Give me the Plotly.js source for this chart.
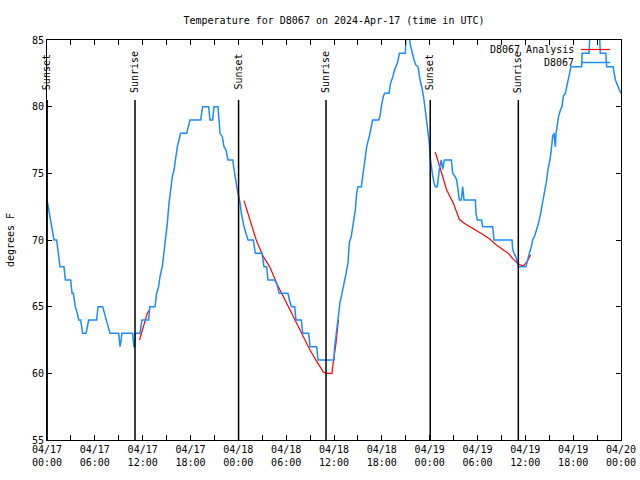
<!DOCTYPE html>
<html><head><meta charset="utf-8">
<script src="https://cdn.plot.ly/plotly-3.0.1.min.js"></script>
<style>html,body{margin:0;padding:0;background:#fff}#chart{width:640px;height:480px}</style>
</head><body><div id="chart"></div>
<script>
// Observed temperature (hours since 2024-04-17 00:00 UTC, degrees F)
const obsHours = [0,0.21,0.46,0.63,0.79,0.88,1.21,1.38,1.63,2.13,2.3,2.97,3.14,3.3,3.55,3.8,3.97,4.22,4.47,4.9,5.05,5.23,6.23,6.4,6.98,7.2,7.4,7.6,7.9,9.0,9.1,9.16,9.3,9.4,10.74,10.8,10.9,11.0,11.06,11.67,11.9,12.75,12.9,13.55,13.75,14.0,14.17,14.46,14.67,14.88,15.09,15.3,15.51,15.72,15.93,16.14,16.35,16.56,16.76,17.52,17.68,17.93,19.27,19.52,20.28,20.44,20.78,20.94,21.45,21.7,21.99,22.2,22.45,22.7,23.29,23.45,23.66,23.88,24.04,24.21,24.38,24.54,24.71,24.96,25.21,25.88,26.13,26.97,27.05,27.22,27.55,27.72,28.56,28.81,29.14,30.23,30.4,30.65,31.07,31.23,31.9,32.07,32.82,32.99,33.83,33.99,36.0,36.08,36.25,36.5,36.75,37.0,37.26,37.51,37.76,37.92,38.17,38.43,38.68,38.84,39.01,39.43,39.6,39.85,40.1,40.43,40.64,40.85,41.6,41.77,41.94,42.19,42.36,42.9,43.11,43.36,43.61,43.95,44.2,44.95,45.05,45.45,45.53,45.78,46.04,46.29,46.54,46.79,47.04,47.29,47.54,47.79,47.96,48.04,48.21,48.38,48.54,48.71,48.96,49.05,49.21,49.38,49.46,49.63,49.84,50.72,50.89,51.14,51.39,51.55,51.72,51.97,52.14,52.31,53.73,53.81,53.98,54.5,54.65,55.9,56.07,58.33,58.41,58.58,58.83,59.0,59.16,60.08,60.25,60.5,60.75,60.92,61.17,61.42,61.67,61.92,62.17,62.43,62.68,62.84,63.09,63.26,63.43,63.6,63.76,63.85,64.01,64.18,64.43,64.6,64.77,65.02,65.19,65.35,65.52,65.73,67.07,67.12,68.0,68.1,69.3,69.4,70.1,70.2,71.0,71.3,71.7,72.0];
const obsTemp = [73,72.25,71.25,70.75,70.25,70,70,69,68,68,67,67,66,66,65,64.5,64,64,63,63,63.5,64,64,65,65,64.5,64,63.5,63,63,62.5,62,62.5,63,63,62.5,62,62,63,63,64,64,65,65,66,66.5,67.25,68,69,70,71.25,72.75,73.75,74.75,75.25,76.25,77,77.5,78,78,78.5,79,79,80,80,79,79,80,80,78,77.75,77,76.75,76,76,75.25,74.5,73.75,73.3,72.8,72,71.5,71,70.5,70,70,69,69,68.5,68,68,67,67,66.75,66,66,65.5,65,65,64,64,63,63,62,62,61,61,62,62.8,64,65.3,66,66.7,67.5,68.3,69.8,70.3,71.3,72.3,73.5,74,74,74.8,75.8,77,77.8,78.3,79,79,79.3,80,80.8,81,81,81.8,82.2,82.8,83.25,84,84,85.5,85.5,84.75,84,83.5,83.1,83,82,81.4,80.5,79.25,78.25,77.25,76.3,75.3,74.8,74.3,74,74,74.5,75.3,75.8,76,75.3,76,76,75,74.8,74.5,73.8,73,73,74,73,73,72,71.5,71.5,71,71,70,70,69.3,69,68.7,68.3,68,68,68.5,69,69.5,70,70.3,70.8,71.3,72,72.8,73.8,74.5,75.3,76,76.8,77.8,78,77,78,78.8,79.3,79.8,80,80.8,81,81.5,82,82.5,83,83,84,84,85.5,85.5,84,84,83,83,82,81.4,81];

// Analysis (three separate runs, separated by null)
const anaHours = [11.6,12.0,12.33,12.58,12.83,null,24.71,25.46,26.3,27.14,27.97,28.81,29.65,30.48,31.32,32.15,32.99,33.83,34.66,35.08,35.75,35.92,36.25,36.55,null,48.71,49.3,50.13,50.97,51.72,52.23,53.06,53.9,54.73,55.57,56.41,57.24,57.87,58.5,59.12,59.75,60.25,60.67];
const anaTemp  = [62.5,63.25,64.0,64.5,64.75,null,72.95,71.5,69.9,68.75,67.95,66.75,65.75,64.75,63.75,62.75,61.75,60.9,60.1,60.0,60.0,60.9,62.25,64.0,null,76.58,75.4,73.75,72.75,71.55,71.3,71.0,70.75,70.4,70.05,69.6,69.25,69.0,68.55,68.2,68.05,68.4,68.9];

// Sun events
const eventHours  = [0.02, 11.04, 24.03, 35.0, 48.07, 59.12];
const eventLabels = ["Sunset","Sunrise","Sunset","Sunrise","Sunset","Sunrise"];

// Tick labels
const tickHours = [0,3,6,9,12,15,18,21,24,27,30,33,36,39,42,45,48,51,54,57,60,63,66,69,72];
const tickDates = ["04/17","04/17","04/17","04/17","04/18","04/18","04/18","04/18","04/19","04/19","04/19","04/19","04/20"];
const tickTimes = ["00:00","06:00","12:00","18:00","00:00","06:00","12:00","18:00","00:00","06:00","12:00","18:00","00:00"];

const seriesNames = ["D8067 Analysis", "D8067"];
const seriesColors = ["#ff0000", "#1a8cff"];

const FONT = "DejaVu Sans Mono, Liberation Mono, monospace";
const tickText = tickHours.map(h => (h % 6 === 0) ? (tickDates[h/6] + "<br>" + tickTimes[h/6]) : "");

const L = 47, R = 621, T = 40, B = 440;
const px2x = p => (p - L) / (R - L);
const px2y = p => (B - p) / (B - T);

const traces = [
  {x: anaHours, y: anaTemp, type: "scatter", mode: "lines", name: seriesNames[0],
   line: {color: seriesColors[0], width: 1.2}, connectgaps: false, showlegend: false},
  {x: obsHours, y: obsTemp, type: "scatter", mode: "lines", name: seriesNames[1],
   line: {color: seriesColors[1], width: 1.5}, showlegend: false}
];

const shapes = eventHours.map(h => ({type: "line", xref: "x", yref: "paper", x0: h, x1: h,
  y0: 0, y1: px2y(100), line: {color: "black", width: 1.5}}));
const annotations = eventHours.map((h, i) => ({xref: "x", yref: "paper", x: h, y: px2y(72),
  text: eventLabels[i], textangle: -90, showarrow: false, xanchor: "center", yanchor: "middle",
  font: {family: FONT, size: 10, color: "black"}}));

// legend (text left, sample right as in reference)
seriesNames.forEach((n, i) => {
  const yy = i === 0 ? 49.5 : 62.5;
  annotations.push({xref: "paper", yref: "paper", x: px2x(576), y: px2y(yy), text: n,
    showarrow: false, xanchor: "right", yanchor: "middle", font: {family: FONT, size: 10, color: "black"}});
  shapes.push({type: "line", xref: "paper", yref: "paper", x0: px2x(581), x1: px2x(610),
    y0: px2y(yy), y1: px2y(yy), line: {color: seriesColors[i], width: i === 0 ? 1.2 : 1.5}});
});

const layout = {
  width: 640, height: 480,
  margin: {l: L, r: 640 - R, t: T, b: 480 - B},
  paper_bgcolor: "white", plot_bgcolor: "white",
  font: {family: FONT, size: 10, color: "black"},
  title: {text: "Temperature for D8067 on 2024-Apr-17 (time in UTC)", x: px2x(334), xref: "paper",
          y: 1 - 20/480, yanchor: "middle", font: {family: FONT, size: 10, color: "black"}},
  xaxis: {range: [0, 72], tickmode: "array", tickvals: tickHours, ticktext: tickText,
          ticks: "inside", ticklen: 5, tickcolor: "black", showgrid: false, zeroline: false,
          showline: true, linecolor: "black", linewidth: 1, mirror: "ticks",
          tickfont: {family: FONT, size: 10, color: "black"}},
  yaxis: {range: [55, 85], tickmode: "linear", tick0: 55, dtick: 5,
          ticks: "inside", ticklen: 5, tickcolor: "black", showgrid: false, zeroline: false,
          showline: true, linecolor: "black", linewidth: 1, mirror: "ticks",
          tickfont: {family: FONT, size: 10, color: "black"},
          title: {text: "degrees F", standoff: 15, font: {family: FONT, size: 10, color: "black"}}},
  shapes: shapes, annotations: annotations, showlegend: false
};

Plotly.newPlot("chart", traces, layout, {staticPlot: true, displayModeBar: false});
</script>
</body></html>
